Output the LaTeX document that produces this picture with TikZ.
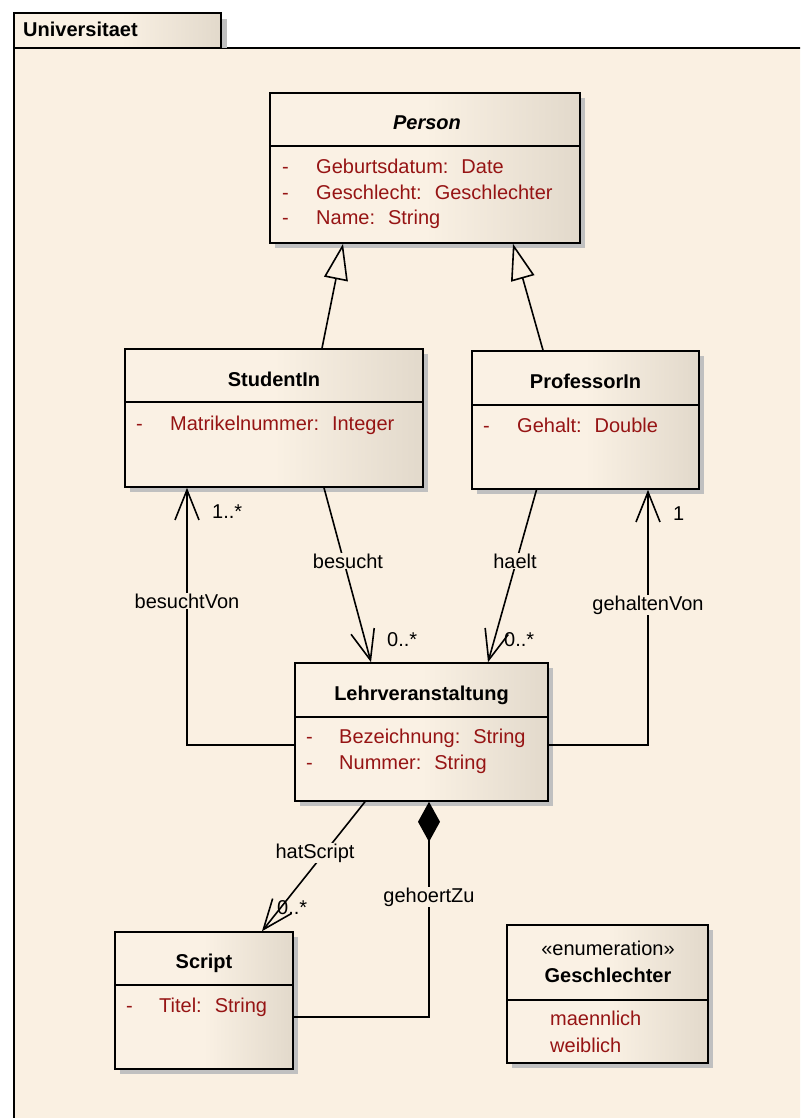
\documentclass[tikz,border=0pt]{standalone}
\usepackage{fontspec}
\setmainfont{Liberation Sans}
\usetikzlibrary{arrows.meta, shadows}

\definecolor{pkgbg}{RGB}{250,240,226}
\definecolor{boxlight}{RGB}{250,241,228}
\definecolor{boxdark}{RGB}{226,217,203}
\definecolor{shadowgray}{RGB}{192,192,192}
\definecolor{attrred}{RGB}{150,20,20}

\begin{document}
\begin{tikzpicture}[x=1pt, y=-1pt,
  every node/.style={font=\fontsize{20}{24}\selectfont},
  umlclass/.style={draw, line width=1.6pt, inner sep=0pt,
    left color=boxlight, right color=boxdark, middle color=boxlight,
    drop shadow={shadow xshift=5pt, shadow yshift=-5pt, fill=shadowgray, opacity=1}},
  sep/.style={line width=1.6pt},
  title/.style={anchor=base, font=\fontsize{20}{24}\selectfont\bfseries},
  attr/.style={anchor=base west, inner sep=0pt, text=attrred},
  lbl/.style={anchor=base, fill=pkgbg, inner sep=1pt},
  mult/.style={anchor=base west, inner sep=0pt},
  nav/.style={line width=1.6pt, -{Straight Barb[length=30pt,width=24pt]}},
  gen/.style={line width=1.6pt, -{Triangle[length=36pt,width=24pt,fill=pkgbg]}},
  comp/.style={line width=1.6pt, {Turned Square[length=40pt,width=22pt,fill=black]}-}]
\useasboundingbox (0,0) rectangle (800,1118);
\clip (0,0) rectangle (800,1118);

% package frame
\fill[pkgbg] (14,48) rectangle (820,1130);
\draw[line width=1.6pt] (14,1130) -- (14,48) -- (820,48);
\fill[shadowgray] (221,19) rectangle (227,48);
\draw[line width=1.6pt, left color=boxlight, right color=boxdark, middle color=boxlight] (14,13) rectangle (221,48);
\node[title, anchor=base west, inner sep=0pt] (pkgname) at (23,37) {Universitaet};

% classes
\node[umlclass, minimum width=310pt, minimum height=150pt] (person) at (425,168) {};
\draw[sep] (person.west |- 0,146) -- (person.east |- 0,146);
\node[title, font=\fontsize{20}{24}\selectfont\bfseries\itshape] (personT) at (427,130) {Person};
\node[attr] (personD1) at (282,174) {-};
\node[attr] (personA1) at (316,174) {Geburtsdatum:~ Date};
\node[attr] (personD2) at (282,199) {-};
\node[attr] (personA2) at (316,199) {Geschlecht:~ Geschlechter};
\node[attr] (personD3) at (282,224) {-};
\node[attr] (personA3) at (316,224) {Name:~ String};

\node[umlclass, minimum width=298pt, minimum height=138pt] (student) at (274,418) {};
\draw[sep] (student.west |- 0,402) -- (student.east |- 0,402);
\node[title] (studentT) at (274,386) {StudentIn};
\node[attr] (studentD1) at (136,430) {-};
\node[attr] (studentA1) at (170,430) {Matrikelnummer:~ Integer};

\node[umlclass, minimum width=227pt, minimum height=138pt] (prof) at (585.5,420) {};
\draw[sep] (prof.west |- 0,405) -- (prof.east |- 0,405);
\node[title] (profT) at (585.5,388) {ProfessorIn};
\node[attr] (profD1) at (483,432) {-};
\node[attr] (profA1) at (517,432) {Gehalt:~ Double};

\node[umlclass, minimum width=253pt, minimum height=138pt] (lv) at (421.5,732) {};
\draw[sep] (lv.west |- 0,717) -- (lv.east |- 0,717);
\node[title] (lvT) at (421.5,700) {Lehrveranstaltung};
\node[attr] (lvD1) at (306,743) {-};
\node[attr] (lvA1) at (339,743) {Bezeichnung:~ String};
\node[attr] (lvD2) at (306,769) {-};
\node[attr] (lvA2) at (339,769) {Nummer:~ String};

\node[umlclass, minimum width=178pt, minimum height=137pt] (script) at (204,1000.5) {};
\draw[sep] (script.west |- 0,985) -- (script.east |- 0,985);
\node[title] (scriptT) at (204,968) {Script};
\node[attr] (scriptD1) at (126,1012) {-};
\node[attr] (scriptA1) at (159,1012) {Titel:~ String};

\node[umlclass, minimum width=201pt, minimum height=138pt] (enum) at (607.5,994) {};
\draw[sep] (enum.west |- 0,1000) -- (enum.east |- 0,1000);
\node[anchor=base] (enumS) at (608,955) {«enumeration»};
\node[title] (enumT) at (608,982) {Geschlechter};
\node[attr] (enumV1) at (550,1025) {maennlich};
\node[attr] (enumV2) at (550,1052) {weiblich};

% generalizations
\draw[gen] ([xshift=48pt]student.north) -- ([xshift=-82pt]person.south);
\draw[gen] ([xshift=-42.5pt]prof.north) -- ([xshift=88pt]person.south);

% associations
\draw[nav] ([xshift=50pt]student.south) -- ([xshift=-50.5pt]lv.north);
\draw[nav] ([xshift=-49pt]prof.south) -- ([xshift=66.5pt]lv.north);
\draw[nav] ([yshift=-13pt]lv.west) -| ([xshift=-87pt]student.south);
\draw[nav] ([yshift=-13pt]lv.east) -| ([xshift=62.5pt]prof.south);
\draw[nav] ([xshift=-56.5pt]lv.south) -- ([xshift=58pt]script.north);
\draw[comp] ([xshift=7.5pt]lv.south) |- ([yshift=-16.5pt]script.east);

% labels
\node[lbl] (besuchtL) at (348,568) {besucht};
\node[lbl] (haeltL) at (515,568) {haelt};
\node[lbl] (besuchtVonL) at (187,608) {besuchtVon};
\node[lbl] (gehaltenVonL) at (648,610) {gehaltenVon};
\node[lbl] (hatScriptL) at (315,858) {hatScript};
\node[lbl] (gehoertZuL) at (429,902) {gehoertZu};
\node[mult] (besuchtM) at (387,646) {0..*};
\node[mult] (haeltM) at (504,646) {0..*};
\node[mult] (besuchtVonM) at (212,518) {1..*};
\node[mult] (gehaltenVonM) at (673,520) {1};
\node[mult] (hatScriptM) at (277,914) {0..*};
\end{tikzpicture}
\end{document}
